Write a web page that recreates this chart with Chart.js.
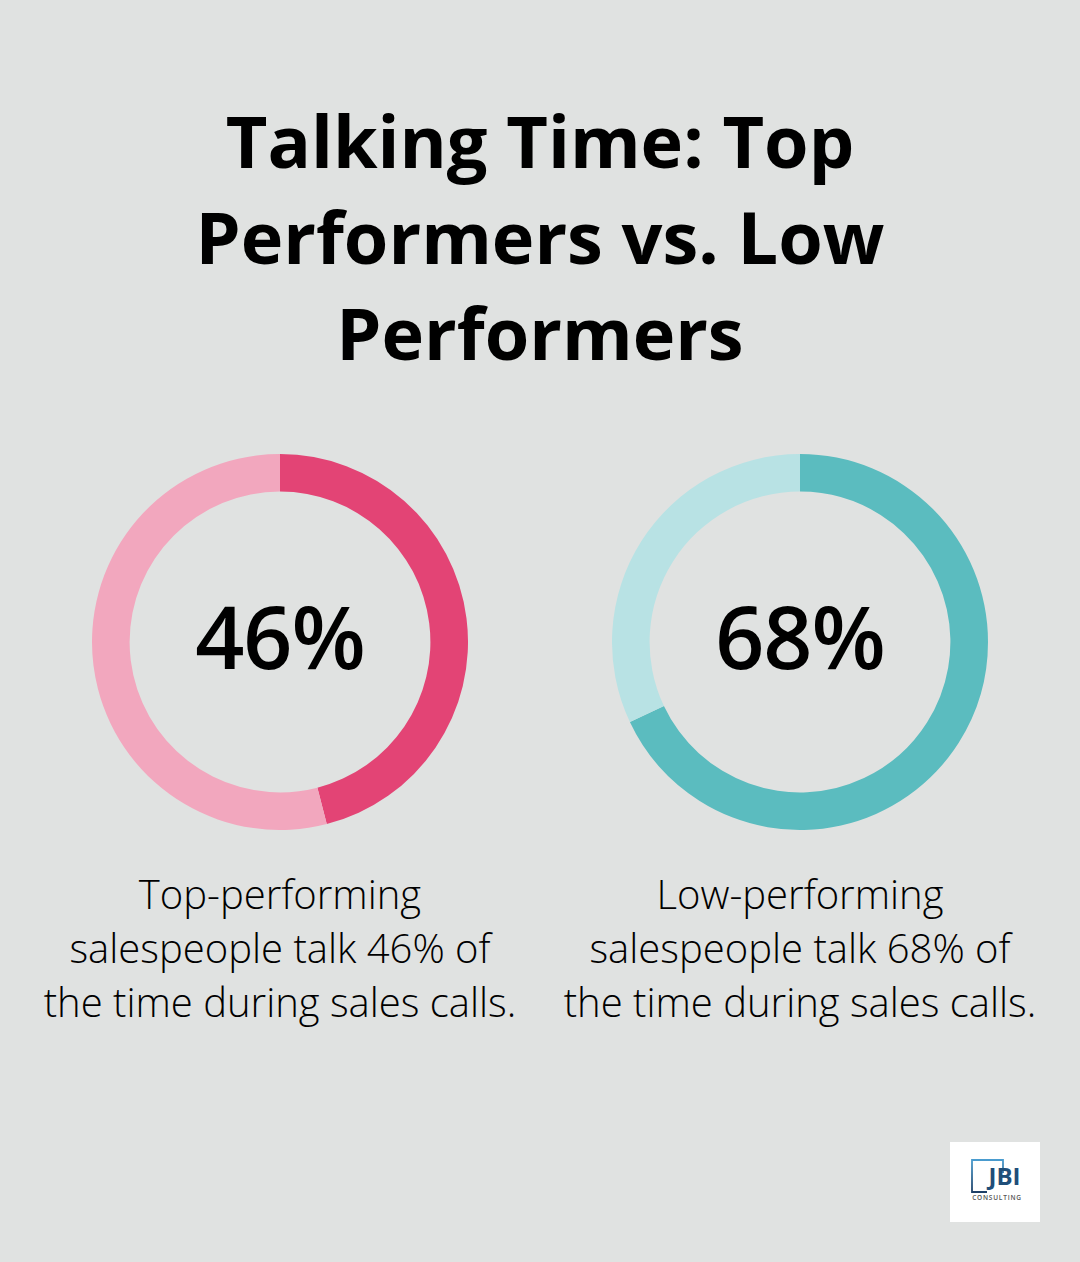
<!DOCTYPE html>
<html>
<head>
<meta charset="utf-8">
<script src="https://cdn.jsdelivr.net/npm/chart.js@4.4.1/dist/chart.umd.min.js"></script>
<style>
  html, body { margin: 0; padding: 0; }
  body { width: 1080px; height: 1262px; background: #E0E2E1; position: relative; overflow: hidden; font-family: "Open Sans", sans-serif; color: #000; }
  #title { position: absolute; left: 0; width: 1080px; top: 92px; text-align: center; font-weight: 700; font-size: 72px; line-height: 96px; }
  .wrap { position: absolute; width: 376px; height: 376px; top: 454px; }
  .center { position: absolute; left: 0; top: -7px; width: 376px; height: 376px; display: flex; align-items: center; justify-content: center; font-size: 86px; font-weight: 600; letter-spacing: -1px; pointer-events: none; }
  .caption { position: absolute; top: 867px; width: 520px; text-align: center; font-weight: 300; font-size: 40px; line-height: 54px; }
  #logo { position: absolute; left: 950px; top: 1142px; width: 90px; height: 80px; background: #fff; }
</style>
</head>
<body>
<div id="title">Talking Time: Top<br>Performers vs. Low<br>Performers</div>

<div class="wrap" style="left:92px"><canvas id="c1" width="376" height="376"></canvas><div class="center" id="v1"></div></div>
<div class="wrap" style="left:612px"><canvas id="c2" width="376" height="376"></canvas><div class="center" id="v2"></div></div>

<div class="caption" style="left:20px" id="t1"></div>
<div class="caption" style="left:540px" id="t2"></div>

<div id="logo">
  <svg width="90" height="80" viewBox="0 0 90 80">
    <defs><linearGradient id="g" x1="0" y1="0" x2="0" y2="1"><stop offset="0" stop-color="#4a9ccf"/><stop offset="1" stop-color="#1d3f66"/></linearGradient></defs>
    <path d="M53 31 V18 H22 V50 H37" fill="none" stroke="url(#g)" stroke-width="1.8"/>
    <text x="54.5" y="43" font-family="Open Sans" font-weight="700" font-size="24" fill="#1f4e79" text-anchor="middle" fill="url(#g)">JBI</text>
    <text x="47" y="58" font-family="Open Sans" font-weight="600" font-size="6.5" fill="#555" text-anchor="middle" letter-spacing="0.8">CONSULTING</text>
  </svg>
</div>

<script>
const labels = ["Talking", "Listening"];
const topPerformers = [46, 54];
const lowPerformers = [68, 32];
const centerLabels = ["46%", "68%"];
const captions = [
  "Top-performing<br>salespeople talk 46% of<br>the time during sales calls.",
  "Low-performing<br>salespeople talk 68% of<br>the time during sales calls."
];
const pinkColors = ["#E34475", "#F2A7BE"];
const tealColors = ["#5BBCBF", "#B8E2E4"];

document.getElementById("v1").textContent = centerLabels[0];
document.getElementById("v2").textContent = centerLabels[1];
document.getElementById("t1").innerHTML = captions[0];
document.getElementById("t2").innerHTML = captions[1];

function makeDonut(id, data, colors) {
  new Chart(document.getElementById(id), {
    type: "doughnut",
    data: { labels: labels, datasets: [{ data: data, backgroundColor: colors, borderWidth: 0, hoverOffset: 0 }] },
    options: {
      responsive: false,
      animation: false,
      cutout: "80%",
      layout: { padding: 0 },
      plugins: { legend: { display: false }, tooltip: { enabled: false } }
    }
  });
}
makeDonut("c1", topPerformers, pinkColors);
makeDonut("c2", lowPerformers, tealColors);
</script>
</body>
</html>
